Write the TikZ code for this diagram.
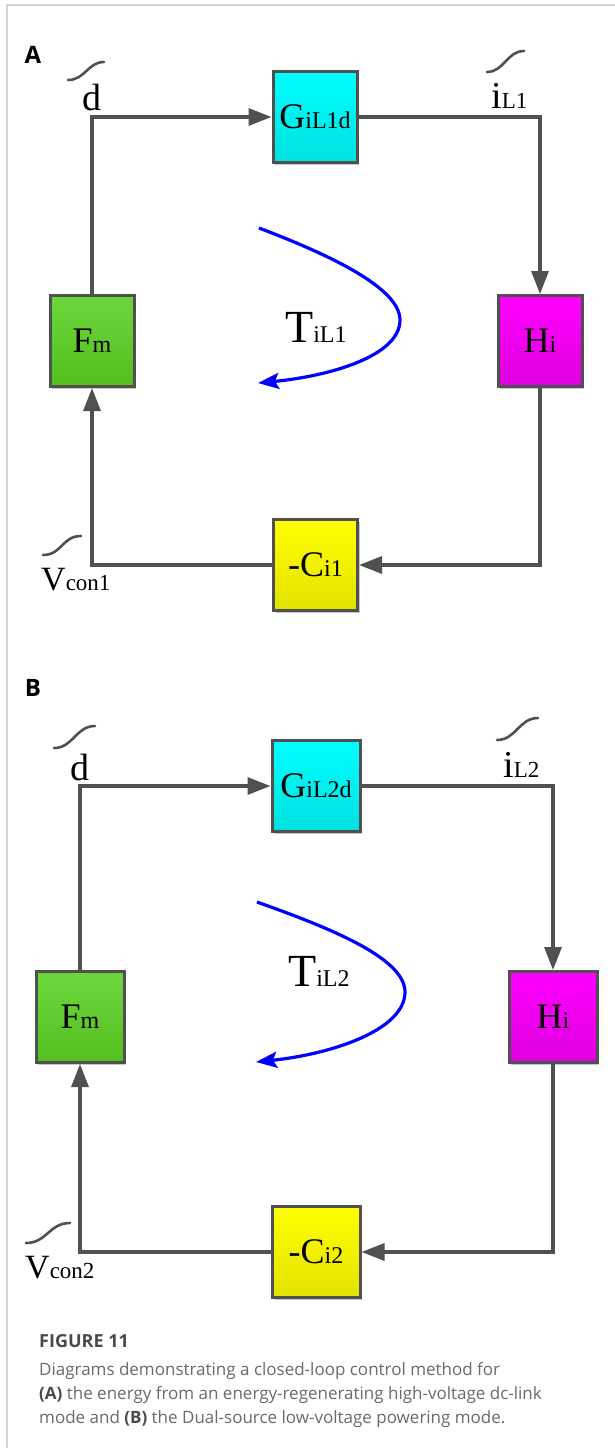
\documentclass[tikz,border=0pt]{standalone}
\usepackage{fontspec}
\setmainfont{Liberation Serif}
\newfontfamily\capfont{Open Sans}
\usetikzlibrary{arrows.meta,shadows}
\definecolor{linegray}{HTML}{505050}
\definecolor{framegray}{HTML}{D2D2D2}
\definecolor{captext}{HTML}{6A6A6A}
\definecolor{capbold}{HTML}{4A4A4A}
\newcommand{\blk}[2]{{\fontsize{36}{36}\selectfont #1}{\fontsize{24}{24}\selectfont #2}}
\newcommand{\lbltxt}[3]{{\fontsize{#3}{#3}\selectfont #1}{\fontsize{23}{23}\selectfont #2}}
\tikzset{
  blockbox/.style={draw=linegray, line width=3pt, inner sep=0pt,
    drop shadow={shadow xshift=2pt, shadow yshift=-2pt, opacity=0.22, fill=black}},
  boxA/.style={blockbox, minimum width=84pt, minimum height=91pt},
  boxB/.style={blockbox, minimum width=88pt, minimum height=91pt},
  cyanbox/.style={top color=cyan, bottom color=cyan!88!black},
  greenbox/.style={top color={rgb,255:red,108;green,214;blue,62}, bottom color={rgb,255:red,84;green,190;blue,30}},
  magbox/.style={top color={rgb,255:red,255;green,0;blue,255}, bottom color={rgb,255:red,222;green,0;blue,222}},
  yelbox/.style={top color={rgb,255:red,255;green,255;blue,0}, bottom color={rgb,255:red,226;green,226;blue,0}},
  conn/.style={draw=linegray, line width=3.2pt},
  tipped/.style={conn, -{Triangle[length=23pt,width=17pt]}},
  tildemark/.style={draw=linegray, line width=2.6pt, line cap=round},
  loopcurve/.style={draw=blue, line width=3.2pt, -{Stealth[length=21pt,width=16pt,inset=4pt]}},
  lbl/.style={inner sep=0pt, anchor=base west},
  panel/.style={inner sep=0pt, font=\capfont\bfseries\fontsize{24}{24}\selectfont, text=black},
  captxt/.style={inner sep=0pt, anchor=base west, text=captext, font=\capfont\fontsize{17}{17}\selectfont}
}
\begin{document}
\begin{tikzpicture}[x=1pt,y=-1pt]
\useasboundingbox (0,0) rectangle (615,1448);
\fill[white] (0,0) rectangle (615,1448);
\draw[framegray, line width=1.2pt] (7,1448) -- (7,5) -- (615,5);

% ---------------- Panel A ----------------
\node[panel] (labA) at (33,55) {A};
\node[boxA, cyanbox] (gA) at (315,117) {\blk{G}{iL1d}};
\node[boxA, magbox] (hA) at (540,341) {\blk{H}{i}};
\node[boxA, yelbox] (cA) at (315.5,565) {\blk{-C}{i1}};
\node[boxA, greenbox] (fA) at (92,341) {\blk{F}{m}};

\draw[tipped] (fA.north) |- (gA.west);
\draw[tipped] (gA.east) -| (hA.north);
\draw[tipped] (hA.south) |- (cA.east);
\draw[tipped] (cA.west) -| (fA.south);

\node[lbl] (dA) at (82,110) {\fontsize{38}{38}\selectfont d};
\draw[tildemark] (68,80) .. controls (85,80) and (88,62) .. (104,62);
\node[lbl] (iA) at (491,108) {\lbltxt{i}{L1}{38}};
\draw[tildemark] (487,72) .. controls (504,72) and (507,51) .. (524,51);
\node[lbl] (vA) at (41,590) {\lbltxt{V}{con1}{34}};
\draw[tildemark] (43,555) .. controls (62,555) and (62,536) .. (81,536);

\node[lbl] (tA) at (285,342) {{\fontsize{46}{46}\selectfont T}{\fontsize{24}{24}\selectfont iL1}};
\coordinate (sA) at (259,228);
\coordinate (mA) at (400,320);
\coordinate (eA) at (258,383);
\draw[loopcurve] (sA) .. controls (330,255) and (400,288) .. (mA) .. controls (400,356) and (330,376) .. (eA);

% ---------------- Panel B ----------------
\node[panel] (labB) at (33,688) {B};
\node[boxB, cyanbox] (gB) at (316,786) {\blk{G}{iL2d}};
\node[boxB, magbox] (hB) at (553,1017) {\blk{H}{i}};
\node[boxB, yelbox] (cB) at (316,1252) {\blk{-C}{i2}};
\node[boxB, greenbox] (fB) at (80,1017) {\blk{F}{m}};

\draw[tipped] (fB.north) |- (gB.west);
\draw[tipped] (gB.east) -| (hB.north);
\draw[tipped] (hB.south) |- (cB.east);
\draw[tipped] (cB.west) -| (fB.south);

\node[lbl] (dB) at (70,780) {\fontsize{38}{38}\selectfont d};
\draw[tildemark] (54,748) .. controls (73,748) and (76,726) .. (95,726);
\node[lbl] (iB) at (503,777) {\lbltxt{i}{L2}{38}};
\draw[tildemark] (497,740) .. controls (516,740) and (519,718) .. (538,718);
\node[lbl] (vB) at (25,1278) {\lbltxt{V}{con2}{34}};
\draw[tildemark] (26,1243) .. controls (47,1243) and (49,1223) .. (70,1223);

\node[lbl] (tB) at (288,986) {{\fontsize{46}{46}\selectfont T}{\fontsize{24}{24}\selectfont iL2}};
\coordinate (sB) at (257,902);
\coordinate (mB) at (405,992);
\coordinate (eB) at (256,1062);
\draw[loopcurve] (sB) .. controls (330,928) and (405,958) .. (mB) .. controls (405,1030) and (332,1054) .. (eB);

% ---------------- Caption ----------------
\node[captxt, text=capbold, font=\capfont\bfseries\fontsize{18}{18}\selectfont] (capT) at (39,1347) {FIGURE 11};
\node[captxt] (cap1) at (39,1375) {Diagrams demonstrating a closed-loop control method for};
\node[captxt] (cap2) at (39,1399) {{\color{capbold}\bfseries (A)} the energy from an energy-regenerating high-voltage dc-link};
\node[captxt] (cap3) at (39,1423) {mode and {\color{capbold}\bfseries (B)} the Dual-source low-voltage powering mode.};
\end{tikzpicture}
\end{document}
